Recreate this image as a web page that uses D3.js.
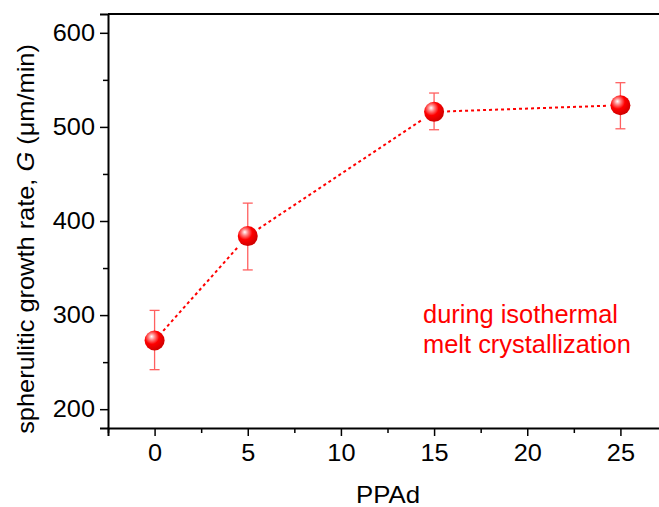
<!DOCTYPE html>
<html>
<head>
<meta charset="utf-8">
<script src="https://cdn.jsdelivr.net/npm/d3@7"></script>
<style>
  body { margin: 0; background: #fff; }
  svg { display: block; font-family: "Liberation Sans", Arial, sans-serif; }
</style>
</head>
<body>
<div id="chart"></div>
<script>
// values
const ppad = [0, 5, 15, 25];
const growth = [273, 384, 516, 523];
const errLow = [242, 348, 497, 498];
const errHigh = [305, 419, 536, 547];
const xTicks = [0, 5, 10, 15, 20, 25];
const yTicks = [200, 300, 400, 500, 600];

const width = 659, height = 507;
const margin = { top: 14, right: -8, bottom: 79, left: 108 };

const svg = d3.select("#chart").append("svg")
  .attr("width", width).attr("height", height);

const x = d3.scaleLinear().domain([-2.5, 27.5]).range([margin.left, width - margin.right]);
const y = d3.scaleLinear().domain([180, 620]).range([height - margin.bottom, margin.top]);

// text in the source is a bit wider than Arial; stretch along the baseline
function stretch(sel, target) {
  const w = sel.node().getComputedTextLength();
  sel.attr("transform", `scale(${target / w},1)`);
}

const defs = svg.append("defs");
const grad = defs.append("radialGradient").attr("id", "ball")
  .attr("cx", "38%").attr("cy", "35%").attr("r", "65%").attr("fx", "35%").attr("fy", "30%");
grad.append("stop").attr("offset", "0%").attr("stop-color", "#ffffff");
grad.append("stop").attr("offset", "25%").attr("stop-color", "#ff8080");
grad.append("stop").attr("offset", "55%").attr("stop-color", "#ff0000");
grad.append("stop").attr("offset", "100%").attr("stop-color", "#d00000");

// frame top (right side falls outside the picture)
svg.append("line")
  .attr("x1", x(-2.5)).attr("x2", x(27.5))
  .attr("y1", y(620)).attr("y2", y(620))
  .attr("stroke", "#000").attr("stroke-width", 2);

// axes
svg.append("g")
  .attr("transform", `translate(0,${y(180)})`)
  .call(d3.axisBottom(x).tickValues(xTicks).tickSize(8).tickPadding(9).tickFormat(d3.format("d")));
svg.append("g")
  .attr("transform", `translate(0,${y(180)})`)
  .call(d3.axisBottom(x).tickValues(d3.range(-2.5, 27.6, 5)).tickSize(5).tickFormat(""))
  .call(g => g.select(".domain").remove());

svg.append("g")
  .attr("transform", `translate(${x(-2.5)},0)`)
  .call(d3.axisLeft(y).tickValues(yTicks).tickSize(8).tickPadding(5));
svg.append("g")
  .attr("transform", `translate(${x(-2.5)},0)`)
  .call(d3.axisLeft(y).tickValues([250, 350, 450, 550]).tickSize(5).tickFormat(""))
  .call(g => g.select(".domain").remove());

svg.selectAll(".domain").attr("stroke", "#000").attr("stroke-width", 2);
svg.selectAll(".tick line").attr("stroke", "#000").attr("stroke-width", 1.5);
svg.selectAll(".tick text")
  .attr("font-size", 23).attr("fill", "#000")
  .each(function () {
    const w = this.getComputedTextLength();
    d3.select(this).attr("textLength", w * 1.1).attr("lengthAdjust", "spacingAndGlyphs");
  });

// axis titles
const xl = svg.append("g").attr("transform", `translate(388,503)`)
  .append("text").attr("text-anchor", "middle").attr("font-size", 24).text("PPAd");
stretch(xl, 64);

const yl = svg.append("g").attr("transform", `translate(34,239) rotate(-90)`)
  .append("text").attr("text-anchor", "middle").attr("font-size", 24);
yl.append("tspan").text("spherulitic growth rate, ");
yl.append("tspan").attr("font-style", "italic").text("G");
yl.append("tspan").text(" (\u03bcm/min)");
stretch(yl, 390);

// dashed connecting line, with small gaps at markers
const pts = ppad.map((d, i) => [x(d), y(growth[i])]);
const gap = 13;
for (let i = 0; i < pts.length - 1; i++) {
  const [x0, y0] = pts[i], [x1, y1] = pts[i + 1];
  const len = Math.hypot(x1 - x0, y1 - y0);
  const ux = (x1 - x0) / len, uy = (y1 - y0) / len;
  svg.append("line")
    .attr("x1", x0 + ux * gap).attr("y1", y0 + uy * gap)
    .attr("x2", x1 - ux * gap).attr("y2", y1 - uy * gap)
    .attr("stroke", "#ff0000").attr("stroke-width", 2)
    .attr("stroke-dasharray", "3,3");
}

// error bars
const eb = svg.append("g").attr("stroke", "#ff6060").attr("stroke-width", 1.3);
ppad.forEach((d, i) => {
  eb.append("line").attr("x1", x(d)).attr("x2", x(d)).attr("y1", y(errLow[i])).attr("y2", y(errHigh[i]));
  eb.append("line").attr("x1", x(d) - 5).attr("x2", x(d) + 5).attr("y1", y(errLow[i])).attr("y2", y(errLow[i]));
  eb.append("line").attr("x1", x(d) - 5).attr("x2", x(d) + 5).attr("y1", y(errHigh[i])).attr("y2", y(errHigh[i]));
});

// markers
svg.selectAll("circle.pt")
  .data(ppad)
  .join("circle")
  .attr("class", "pt")
  .attr("cx", d => x(d))
  .attr("cy", (d, i) => y(growth[i]))
  .attr("r", 10)
  .attr("fill", "url(#ball)");

// annotation
const n1 = svg.append("g").attr("transform", "translate(423,323)")
  .append("text").attr("fill", "#ff0000").attr("font-size", 25).text("during isothermal");
stretch(n1, 195);
const n2 = svg.append("g").attr("transform", "translate(423,353)")
  .append("text").attr("fill", "#ff0000").attr("font-size", 25).text("melt crystallization");
stretch(n2, 208);
</script>
</body>
</html>
